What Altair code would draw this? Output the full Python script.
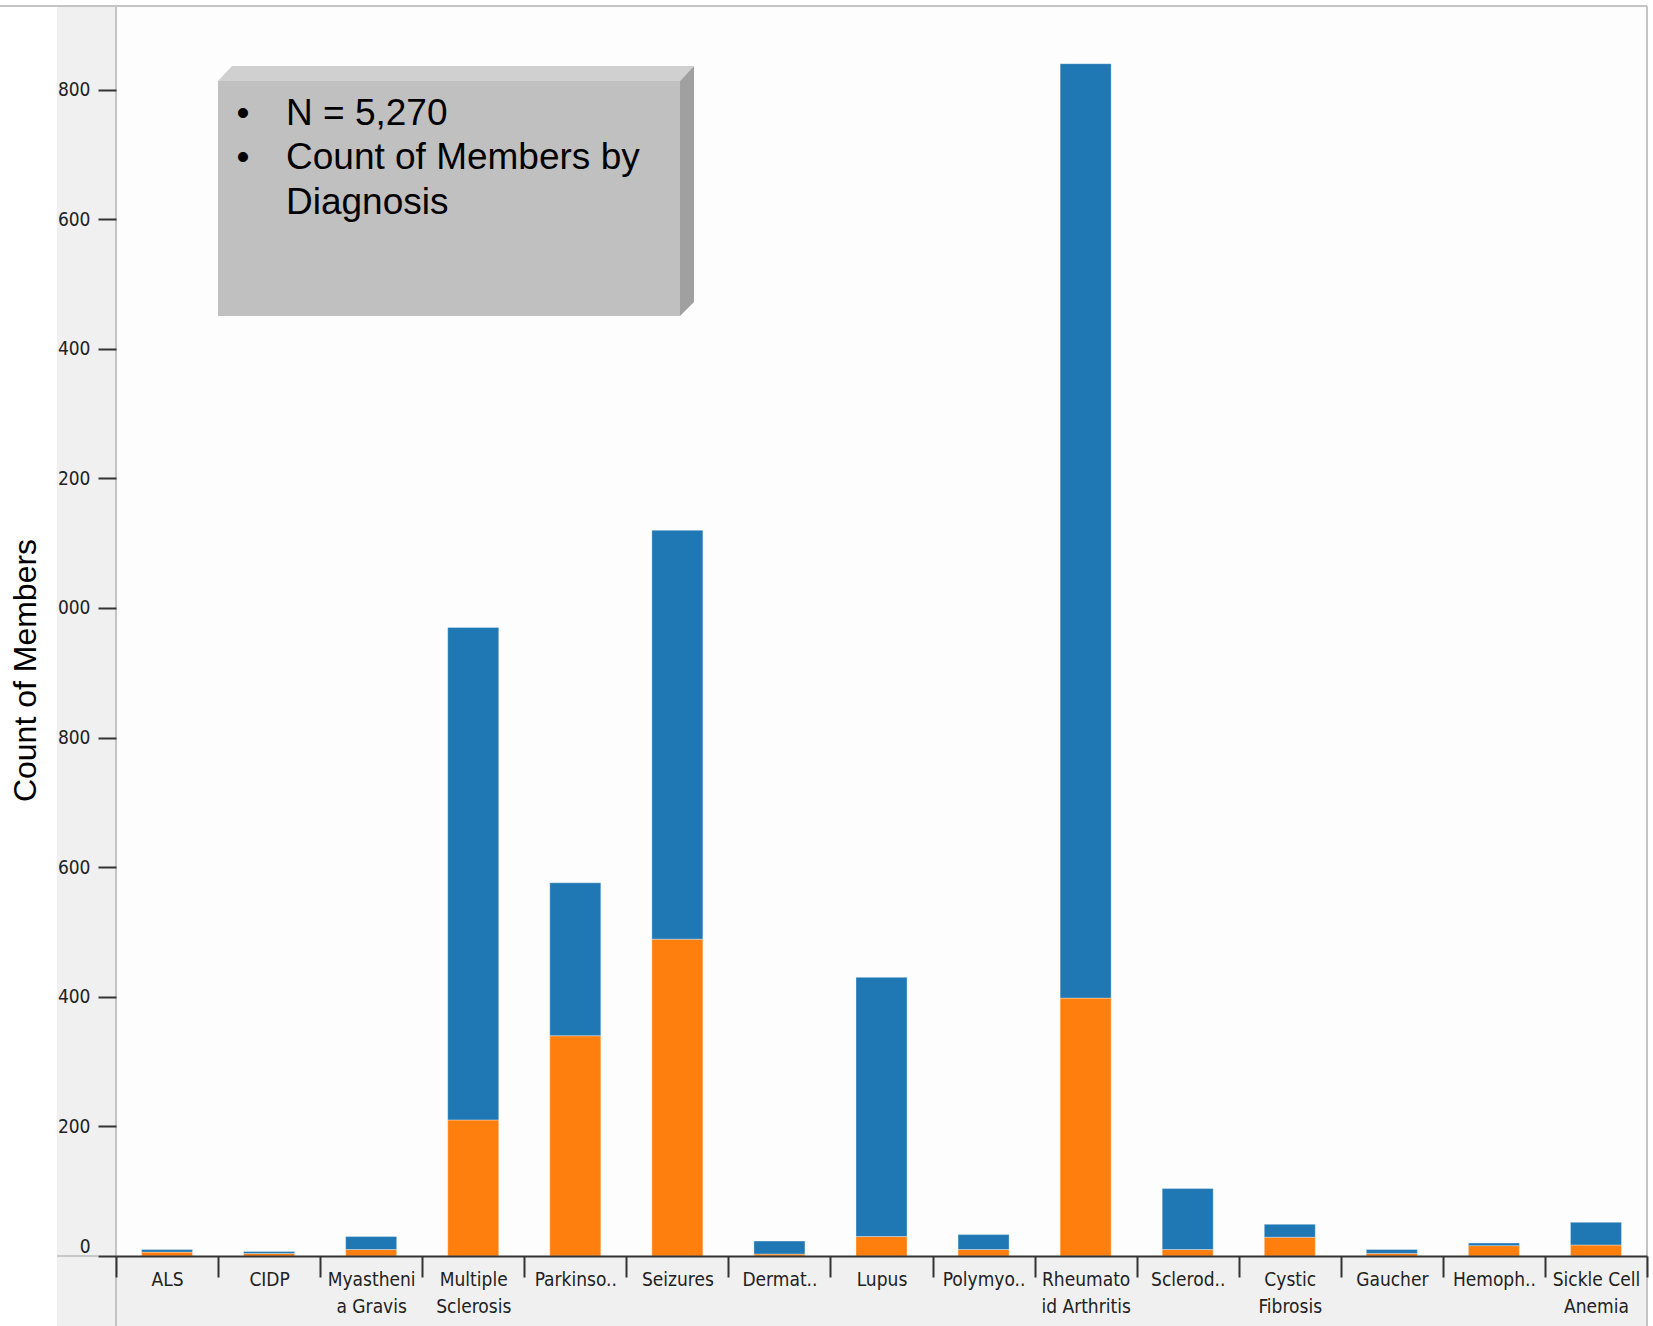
import altair as alt
import pandas as pd

# Diagnoses along the x axis ("|" marks where a label wraps onto a second line)
categories = [
    "ALS", "CIDP", "Myastheni|a Gravis", "Multiple|Sclerosis", "Parkinso..",
    "Seizures", "Dermat..", "Lupus", "Polymyo..", "Rheumato|id Arthritis",
    "Sclerod..", "Cystic|Fibrosis", "Gaucher", "Hemoph..", "Sickle Cell|Anemia",
]
# Member counts per diagnosis: lower (orange) and upper (blue) stacked segments
lower_counts = [6, 4, 10, 210, 340, 489, 3, 30, 10, 398, 10, 29, 4, 16, 17]
upper_counts = [4, 3, 20, 760, 236, 631, 20, 400, 23, 1442, 94, 20, 6, 4, 35]
segments = ["Group 1", "Group 2"]
segment_colors = ["#ff7f0e", "#1f77b4"]
y_ticks = [0, 200, 400, 600, 800, 1000, 1200, 1400, 1600, 1800]
note_lines = ["N = 5,270", "Count of Members by", "Diagnosis"]

rows = []
for cat, lo, up in zip(categories, lower_counts, upper_counts):
    rows.append({"category": cat, "segment": segments[0], "count": lo, "stack_order": 0})
    rows.append({"category": cat, "segment": segments[1], "count": up, "stack_order": 1})
df = pd.DataFrame(rows)

W, H = 1531, 1250
Y_MAX = 1929
FULL_H = 1320          # plot top down to the bottom edge of the page
GUTTER = 59            # grey strip left of the value axis
AXIS_FONT = "DejaVu Sans Condensed"
TEXT_FONT = "Liberation Sans"


def deco():
    return alt.Chart(alt.Data(values=[{}]))


# grey panels behind the axes
gutter = deco().mark_rect(color="#f0f0f0").encode(
    x=alt.value(-GUTTER), x2=alt.value(0), y=alt.value(0), y2=alt.value(FULL_H))
bottom_band = deco().mark_rect(color="#f0f0f0").encode(
    x=alt.value(-GUTTER), x2=alt.value(W), y=alt.value(H), y2=alt.value(FULL_H))
top_border = deco().mark_rule(color="#c4c4c4", strokeWidth=2).encode(
    x=alt.value(-116), x2=alt.value(W), y=alt.value(0))
left_line = deco().mark_rule(color="#c4c4c4", strokeWidth=2).encode(
    x=alt.value(0), y=alt.value(0), y2=alt.value(FULL_H))
right_line = deco().mark_rule(color="#c4c4c4", strokeWidth=2).encode(
    x=alt.value(W), y=alt.value(0), y2=alt.value(FULL_H))
gutter_base = deco().mark_rule(color="#c8c8c8", strokeWidth=2).encode(
    x=alt.value(-GUTTER), x2=alt.value(-18), y=alt.value(H))

# full-step bands so the x ticks fall midway between bars; bars take half a band
bars = alt.Chart(df).mark_bar(
    width=alt.RelativeBandSize(0.5), stroke="#ffffff", strokeOpacity=0.35, strokeWidth=1
).encode(
    x=alt.X(
        "category:N", sort=categories,
        scale=alt.Scale(paddingInner=0, paddingOuter=0),
        axis=alt.Axis(
            title=None, labelExpr="split(datum.label, '|')", labelAngle=0,
            tickBand="extent", tickSize=21, tickWidth=2, tickColor="#333333",
            domainColor="#333333", domainWidth=2,
            labelFont=AXIS_FONT, labelFontSize=19, labelColor="#222222",
            labelPadding=-7, labelLineHeight=27, labelOverlap=False, zindex=1,
        ),
    ),
    y=alt.Y(
        "count:Q", stack="zero",
        scale=alt.Scale(domain=[0, Y_MAX], nice=False),
        axis=alt.Axis(
            values=y_ticks, grid=False, domain=False,
            labelExpr="datum.value >= 1000 ? slice(toString(datum.value), 1) : toString(datum.value)",
            labelBaseline={"condition": {"test": "datum.value === 0", "value": "bottom"}, "value": "middle"},
            tickSize=18, tickWidth=2, tickColor="#333333",
            labelFont=AXIS_FONT, labelFontSize=19, labelColor="#222222", labelPadding=8,
            title="Count of Members", titleFont=TEXT_FONT, titleFontSize=32,
            titleFontWeight="normal", titleColor="#000000", titleAngle=270,
            titleAlign="center", titleBaseline="middle", titleX=-91, titleY=664,
            zindex=1,
        ),
    ),
    color=alt.Color("segment:N", scale=alt.Scale(domain=segments, range=segment_colors), legend=None),
    order=alt.Order("stack_order:Q"),
)

# bevelled note box: front face, top bevel and right bevel as custom symbol paths
box_cx, box_cy, half = 340, 185, 238


def symbol_path(points):
    return "M" + " L".join(f"{(px - box_cx) / half:.4f},{(py - box_cy) / half:.4f}" for px, py in points) + " Z"


faces = [
    ([(102, 75), (564, 75), (564, 310), (102, 310)], "#c0c0c0"),
    ([(102, 75), (116, 60), (578, 60), (564, 75)], "#d0d0d0"),
    ([(564, 75), (578, 60), (578, 296), (564, 310)], "#a0a0a0"),
]
box_layers = [
    deco().mark_point(shape=symbol_path(pts), size=(2 * half) ** 2, filled=True,
                      fill=col, strokeWidth=0, opacity=1).encode(
        x=alt.value(box_cx), y=alt.value(box_cy))
    for pts, col in faces
]

line_ys = [119, 163, 208]
note_text = [
    deco().mark_text(align="left", baseline="alphabetic", font=TEXT_FONT, fontSize=37,
                     color="#000000", text=t).encode(x=alt.value(170), y=alt.value(ly))
    for t, ly in zip(note_lines, line_ys)
]
bullets = [
    deco().mark_text(align="center", baseline="alphabetic", font=TEXT_FONT, fontSize=37,
                     color="#000000", text="\u2022").encode(x=alt.value(127), y=alt.value(ly))
    for ly in line_ys[:2]
]

chart = alt.layer(
    gutter, bottom_band, top_border, right_line, gutter_base, left_line, bars,
    *box_layers, *bullets, *note_text,
).properties(
    width=W, height=H,
    autosize=alt.AutoSizeParams(type="none"),
    padding={"left": 116, "top": 6, "right": 6, "bottom": 70},
).configure(background="#ffffff").configure_view(fill="#fdfdfd", strokeWidth=0)

chart.save("out.html", embed_options={"renderer": "svg", "actions": False})
